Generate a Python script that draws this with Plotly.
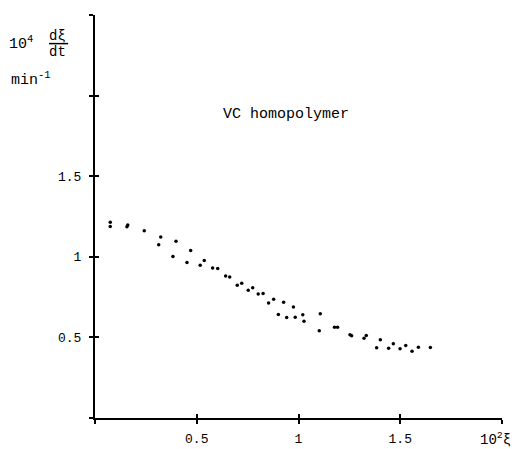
import plotly.graph_objects as go

# 10^2 xi values
xi = [0.075, 0.075, 0.161, 0.157, 0.242, 0.323, 0.313, 0.398, 0.383, 0.470,
      0.452, 0.537, 0.517, 0.578, 0.603, 0.642, 0.662, 0.699, 0.721, 0.753,
      0.775, 0.802, 0.826, 0.853, 0.878, 0.927, 0.975, 0.901, 0.942, 0.984,
      1.021, 1.027, 1.107, 1.102, 1.177, 1.192, 1.253, 1.261, 1.322, 1.333,
      1.402, 1.384, 1.443, 1.466, 1.499, 1.527, 1.558, 1.589, 1.648]
# 10^4 dxi/dt values (min^-1)
rate = [1.214, 1.188, 1.198, 1.186, 1.161, 1.123, 1.075, 1.096, 1.002, 1.039,
        0.964, 0.977, 0.948, 0.931, 0.927, 0.881, 0.875, 0.823, 0.836, 0.792,
        0.808, 0.769, 0.773, 0.713, 0.736, 0.718, 0.688, 0.642, 0.623, 0.625,
        0.641, 0.600, 0.646, 0.542, 0.5625, 0.5625, 0.517, 0.511, 0.494, 0.5125,
        0.486, 0.436, 0.433, 0.461, 0.429, 0.450, 0.414, 0.439, 0.4375]

x_tickvals = [0, 0.5, 1, 1.5, 2]
x_ticktext = ["", "0.5", "1", "1.5", ""]
y_tickvals = [0, 0.5, 1, 1.5, 2, 2.5]
y_ticktext = ["", "0.5", "1", "1.5", "", ""]

FONT = "Liberation Mono, Courier New, monospace"

fig = go.Figure()
fig.add_trace(go.Scatter(x=xi, y=rate, mode="markers",
                         marker=dict(color="black", size=3.5),
                         showlegend=False, hoverinfo="skip"))

common_axis = dict(showgrid=False, zeroline=False, tickcolor="black",
                   tickwidth=2, ticklen=4, automargin=False)
fig.update_layout(
    width=524, height=449,
    margin=dict(l=95, r=22, t=15, b=31),
    plot_bgcolor="white", paper_bgcolor="white",
    font=dict(family=FONT, size=13, color="black"),
    xaxis=dict(range=[0, 2], tickvals=x_tickvals, ticktext=x_ticktext,
               ticks="outside", showline=True, linecolor="black", linewidth=2,
               ticklabelstandoff=3, **common_axis),
    yaxis=dict(range=[0, 2.5], tickvals=y_tickvals, ticktext=y_ticktext,
               ticks="outside", showline=True, linecolor="black", linewidth=2,
               ticklabelstandoff=5, **common_axis),
    xaxis2=dict(range=[0, 2], tickvals=x_tickvals, showticklabels=False,
                ticks="inside", overlaying="x", anchor="y", side="bottom",
                showline=False, **common_axis),
    yaxis2=dict(range=[0, 2.5], tickvals=y_tickvals, showticklabels=False,
                ticks="inside", overlaying="y", anchor="x", side="left",
                showline=False, **common_axis),
)
# invisible trace to activate overlay axes
fig.add_trace(go.Scatter(x=[None], y=[None], xaxis="x2", yaxis="y2",
                         showlegend=False, hoverinfo="skip"))

ann = [
    dict(text="VC homopolymer", x=0.939, y=1.88, xref="x", yref="y",
         font=dict(size=15)),
    dict(text="10<sup>4</sup>", x=-0.182, y=0.930, xref="paper", yref="paper",
         font=dict(size=15)),
    dict(text="d\u03be", x=-0.091, y=0.949, xref="paper", yref="paper",
         font=dict(size=14)),
    dict(text="dt", x=-0.091, y=0.909, xref="paper", yref="paper",
         font=dict(size=14)),
    dict(text="min<sup>-1</sup>", x=-0.212, y=0.842, xref="paper", yref="paper",
         xanchor="left", font=dict(size=15)),
    dict(text="10<sup>2</sup>\u03be", x=0.941, y=-0.052, xref="paper", yref="paper",
         xanchor="left", font=dict(size=14)),
]
for a in ann:
    a.setdefault("showarrow", False)
    a.setdefault("xanchor", "center")
    a.setdefault("yanchor", "middle")
    fig.add_annotation(**a)

fig.add_shape(type="line", xref="paper", yref="paper",
              x0=-0.113, x1=-0.066, y0=0.929, y1=0.929,
              line=dict(color="black", width=1.5))

fig.write_html("out.html")
